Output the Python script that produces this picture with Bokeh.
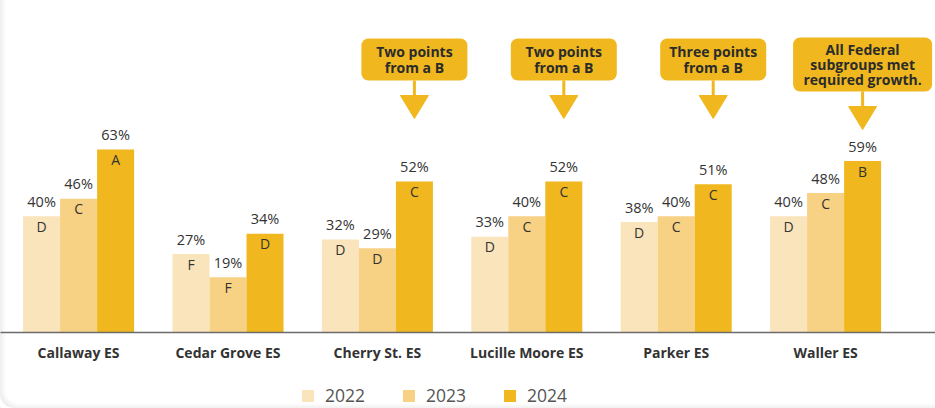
from bokeh.plotting import figure
from bokeh.layouts import column
from bokeh.models import ColumnDataSource, Range1d, FixedTicker, BoxAnnotation, Legend, LegendItem
from bokeh.core.properties import value
from bokeh.embed import file_html
from bokeh.resources import INLINE

# ---------------- data ----------------
schools = ["Callaway ES", "Cedar Grove ES", "Cherry St. ES", "Lucille Moore ES", "Parker ES", "Waller ES"]
years = ["2022", "2023", "2024"]
v2022 = [40, 27, 32, 33, 38, 40]
v2023 = [46, 19, 29, 40, 40, 48]
v2024 = [63, 34, 52, 52, 51, 59]
g2022 = ["D", "F", "D", "D", "D", "D"]
g2023 = ["C", "F", "D", "C", "C", "C"]
g2024 = ["A", "D", "C", "C", "C", "B"]
callout_schools = ["Cherry St. ES", "Lucille Moore ES", "Parker ES", "Waller ES"]
callout_texts = ["Two points\nfrom a B", "Two points\nfrom a B", "Three points\nfrom a B",
                 "All Federal\nsubgroups met\nrequired growth."]

# ---------------- styles / layout ----------------
colors = ["#FAE4BB", "#F7D184", "#F0B81E"]
TEXT = "#333333"
FONT = value("Open Sans")
W = 935
H_MAIN = 380
H_LEG = 28
FRAME_H = 332
PXY = 2.905          # px per percentage point
PXX = 149.4          # px per category
X0 = -78.1 / PXX
X1 = X0 + W / PXX
BAR_W = 0.2477
offsets = [-BAR_W, 0.0, BAR_W]

def ydat(py):
    """pixel row -> data y"""
    return (FRAME_H - py) / PXY

p = figure(width=W, height=H_MAIN, x_range=Range1d(X0, X1), y_range=Range1d(0, FRAME_H / PXY),
           output_backend="svg", toolbar_location=None, y_axis_location=None,
           min_border_left=0, min_border_right=0, min_border_top=0,
           min_border_bottom=H_MAIN - FRAME_H)
p.outline_line_color = None
p.grid.visible = False
p.background_fill_alpha = 0
p.border_fill_alpha = 0

# callouts (boxes as underlay so the text sits on top)
BOX_TOP = 38
STEM = 15
TRI_H = 23
TRI_W = 28
box_widths = [106, 106, 106, 139]
cx, cy, sx0, sy0, sy1, txs, tys = [], [], [], [], [], [], []
for i, name in enumerate(callout_schools):
    s = schools.index(name)
    xc = s + offsets[2]
    nlines = callout_texts[i].count("\n") + 1
    bh = 18 + 12 * nlines
    bw = box_widths[i]
    btop = BOX_TOP - (nlines - 2)
    bbot = btop + bh
    p.add_layout(BoxAnnotation(left=xc - bw / 2 / PXX, right=xc + bw / 2 / PXX,
                               top=ydat(btop), bottom=ydat(bbot),
                               fill_color=colors[2], fill_alpha=1.0, line_color=None,
                               border_radius=7, level="underlay"))
    cx.append(xc)
    cy.append(ydat(btop + bh / 2))
    sx0.append(xc)
    sy0.append(ydat(bbot))
    sy1.append(ydat(bbot + STEM))
    txs.append([xc - TRI_W / 2 / PXX, xc + TRI_W / 2 / PXX, xc])
    tys.append([ydat(bbot + STEM), ydat(bbot + STEM), ydat(bbot + STEM + TRI_H)])

p.segment(x0=sx0, y0=sy0, x1=sx0, y1=sy1, line_color=colors[2], line_width=3)
p.patches(xs=txs, ys=tys, fill_color=colors[2], line_color=colors[2], line_width=1)
p.text(x=cx, y=cy, text=callout_texts, text_align="center", text_baseline="middle",
       text_font=FONT, text_font_style="bold", text_font_size="14px", text_color="#2b2b2b",
       text_line_height=0.8)

vals = [v2022, v2023, v2024]
grades = [g2022, g2023, g2024]
for k, yr in enumerate(years):
    src = ColumnDataSource(dict(
        x=[i + offsets[k] for i in range(len(schools))],
        top=vals[k],
        lab=[f"{v}%" for v in vals[k]],
        grade=grades[k],
    ))
    p.vbar(x="x", top="top", width=BAR_W, source=src, fill_color=colors[k], line_color=None)
    p.text(x="x", y="top", text="lab", source=src, text_align="center", text_baseline="middle",
           y_offset=-15, text_font=FONT, text_font_size="14.5px", text_color=TEXT)
    p.text(x="x", y="top", text="grade", source=src, text_align="center", text_baseline="middle",
           y_offset=10, text_font=FONT, text_font_size="14px", text_color=TEXT)

# axis
ax = p.xaxis[0]
ax.ticker = FixedTicker(ticks=list(range(len(schools))))
ax.major_label_overrides = {i: s for i, s in enumerate(schools)}
ax.major_label_text_font = "Open Sans"
ax.major_label_text_font_style = "bold"
ax.major_label_text_font_size = "14px"
ax.major_label_text_color = TEXT
ax.axis_line_color = "#6b6b6b"
ax.axis_line_width = 1.5
ax.major_tick_line_color = None
ax.minor_tick_line_color = None
ax.major_tick_out = 0
ax.major_label_standoff = 10

# legend strip
lg = figure(width=W, height=H_LEG, x_range=Range1d(0, W), y_range=Range1d(0, H_LEG),
            output_backend="svg", toolbar_location=None,
            x_axis_location=None, y_axis_location=None, min_border=0)
lg.outline_line_color = None
lg.grid.visible = False
lg.background_fill_alpha = 0
lg.border_fill_alpha = 0
leg_r = [lg.vbar(x=[-100], top=[1], width=1, fill_color=c, line_color=None) for c in colors]
legend = Legend(items=[LegendItem(label=yr, renderers=[leg_r[k]], index=0) for k, yr in enumerate(years)],
                orientation="horizontal", location=(300, 1),
                glyph_width=15, glyph_height=15, label_standoff=10, spacing=36,
                padding=0, margin=0, border_line_color=None, background_fill_alpha=0,
                label_text_font="Open Sans", label_text_font_size="17.5px",
                label_text_color="#555555", label_height=15)
lg.add_layout(legend)

page = column(p, lg, spacing=0)
page.styles = {"box-shadow": "inset 5px -4px 4px -2px rgba(0,0,0,0.07)",
               "border-bottom-left-radius": "14px"}
open("out.html", "w").write(file_html(page, INLINE))
